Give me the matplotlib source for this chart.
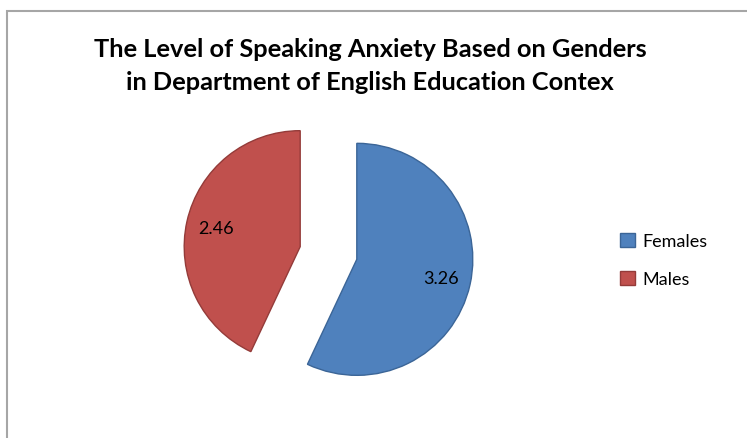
import matplotlib.pyplot as plt
from matplotlib.patches import Rectangle, Patch

# data
genders = ["Females", "Males"]
anxiety = [3.26, 2.46]
colors = ["#4F81BD", "#C0504D"]
edges = ["#3B6597", "#943B39"]
title = "The Level of Speaking Anxiety Based on Genders\nin Department of English Education Contex"

W, H = 747, 439
plt.rcParams['font.family'] = ['Lato', 'DejaVu Sans']

fig = plt.figure(figsize=(W / 100, H / 100), dpi=100)
ax = fig.add_axes([0, 0, 1, 1])

total = sum(anxiety)
R = 116
wedges, texts, autotexts = ax.pie(
    anxiety, colors=colors, startangle=90, counterclock=False,
    center=(328.5, H - 254), radius=R, explode=[0.25 * R, 0.25 * R],
    autopct=lambda p: f"{p * total / 100:.2f}", pctdistance=0.74,
    wedgeprops=dict(linewidth=1.0), textprops=dict(fontsize=13, color="black"))
for w, ec in zip(wedges, edges):
    w.set_edgecolor(ec)

# pie() resets the limits, so set pixel-like limits afterwards
ax.set_xlim(0, W)
ax.set_ylim(0, H)
ax.set_aspect('equal')
ax.axis('off')

# outer chart frame (open to the right / bottom like the cropped original)
ax.add_patch(Rectangle((7, -10), W + 20, H - 12 + 10, fill=False,
                       edgecolor="#A6A6A6", linewidth=1.5))

ax.text(370, H - 66, title, ha='center', va='center', fontsize=18.3,
        fontweight='bold', linespacing=1.55)

handles = [Patch(facecolor=c, edgecolor=e) for c, e in zip(colors, edges)]
ax.legend(handles, genders, loc='center left', bbox_to_anchor=(604 / W, 1 - 261 / H),
          frameon=False, fontsize=13, handlelength=0.8, handleheight=0.8,
          handletextpad=0.4, labelspacing=1.2)

fig.savefig("out.png", dpi=100)
